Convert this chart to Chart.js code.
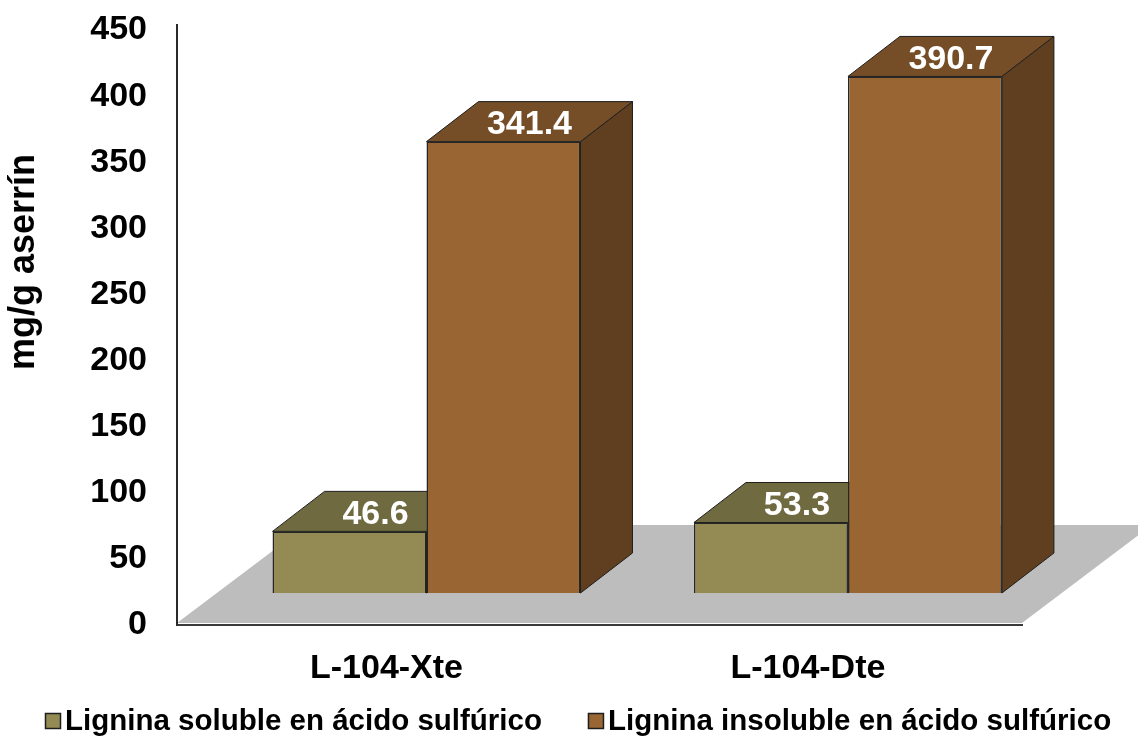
<!DOCTYPE html>
<html>
<head>
<meta charset="utf-8">
<script src="https://cdn.jsdelivr.net/npm/chart.js@4.4.1/dist/chart.umd.min.js"></script>
<style>
  html, body { margin: 0; padding: 0; background: #ffffff; }
  #wrap { width: 1138px; height: 736px; position: relative; }
</style>
</head>
<body>
<div id="wrap"><canvas id="c" width="1138" height="736"></canvas></div>
<script>
// Lignin content per sawdust sample (mg/g)
const categories = ['L-104-Xte', 'L-104-Dte'];
const seriesNames = ['Lignina soluble en ácido sulfúrico', 'Lignina insoluble en ácido sulfúrico'];
const solubleValues = [46.6, 53.3];
const insolubleValues = [341.4, 390.7];
const yTickValues = [0, 50, 100, 150, 200, 250, 300, 350, 400, 450];
const yTitle = 'mg/g aserrín';

const FONT = "'Liberation Sans', Arial, Helvetica, sans-serif";
const DEPTH_X = 52, DEPTH_Y = -40;      // bar depth in pixels
const FLOOR_X = 130, FLOOR_Y = -98;     // floor depth in pixels
const FLOOR_LIFT = 2;

function poly(ctx, pts, fill, stroke) {
  ctx.beginPath();
  ctx.moveTo(pts[0][0], pts[0][1]);
  for (let i = 1; i < pts.length; i++) ctx.lineTo(pts[i][0], pts[i][1]);
  ctx.closePath();
  ctx.fillStyle = fill;
  ctx.fill();
  if (stroke) { ctx.strokeStyle = stroke; ctx.lineWidth = 1; ctx.stroke(); }
}

// gray floor under the bars
const floorPlugin = {
  id: 'floor',
  beforeDraw(chart) {
    const { ctx, chartArea } = chart;
    const yb = chart.scales.y.getPixelForValue(0) - FLOOR_LIFT;
    ctx.save();
    poly(ctx, [
      [chartArea.left, yb], [chartArea.right, yb],
      [chartArea.right + FLOOR_X, yb + FLOOR_Y], [chartArea.left + FLOOR_X, yb + FLOOR_Y]
    ], '#bdbdbd');
    ctx.restore();
  }
};

// top and side faces of each bar, drawn behind the front faces
const depthPlugin = {
  id: 'depth',
  beforeDatasetsDraw(chart) {
    const ctx = chart.ctx;
    ctx.save();
    ctx.lineJoin = 'round';
    chart.data.datasets.forEach((ds, di) => {
      chart.getDatasetMeta(di).data.forEach(bar => {
        const { x, y, base, width } = bar.getProps(['x', 'y', 'base', 'width'], true);
        const l = x - width / 2, r = x + width / 2;
        poly(ctx, [[r, y], [r + DEPTH_X, y + DEPTH_Y], [r + DEPTH_X, base + DEPTH_Y], [r, base]], ds.sideColor, '#1e1e1e');
        poly(ctx, [[l, y], [r, y], [r + DEPTH_X, y + DEPTH_Y], [l + DEPTH_X, y + DEPTH_Y]], ds.topColor, '#1e1e1e');
      });
    });
    ctx.restore();
  },
  afterDatasetsDraw(chart) {
    const ctx = chart.ctx;
    ctx.save();
    ctx.font = `bold 34px ${FONT}`;
    ctx.fillStyle = '#ffffff';
    ctx.textAlign = 'center';
    ctx.textBaseline = 'middle';
    chart.data.datasets.forEach((ds, di) => {
      chart.getDatasetMeta(di).data.forEach((bar, i) => {
        const { x, y } = bar.getProps(['x', 'y'], true);
        ctx.fillText(ds.data[i].y.toFixed(1), x + DEPTH_X / 2, y + DEPTH_Y / 2 + 3);
      });
    });
    ctx.restore();
  }
};

// axis title and legend row
const textPlugin = {
  id: 'texts',
  afterDraw(chart) {
    const ctx = chart.ctx;
    ctx.save();
    ctx.fillStyle = '#000000';
    ctx.font = `bold 36px ${FONT}`;
    ctx.textAlign = 'center';
    ctx.textBaseline = 'middle';
    ctx.translate(24, 262);
    ctx.rotate(-Math.PI / 2);
    ctx.fillText(yTitle, 0, 0);
    ctx.restore();

    ctx.save();
    ctx.font = `bold 29.5px ${FONT}`;
    ctx.textBaseline = 'middle';
    ctx.textAlign = 'left';
    const box = 16, gapText = 4, gapItem = 46, yMid = 721;
    const items = chart.data.datasets.map(ds => ({ label: ds.label, color: ds.backgroundColor, w: ctx.measureText(ds.label).width }));
    let x = 45;
    items.forEach(it => {
      ctx.fillStyle = it.color;
      ctx.fillRect(x, yMid - box / 2, box, box);
      ctx.strokeStyle = '#1e1e1e';
      ctx.lineWidth = 1.5;
      ctx.strokeRect(x + 0.5, yMid - box / 2 + 0.5, box - 1, box - 1);
      ctx.fillStyle = '#000000';
      ctx.fillText(it.label, x + box + gapText, yMid + 1);
      x += box + gapText + it.w + gapItem;
    });
    ctx.restore();
  }
};

const pxPerUnit = 600 / 453.8;
const barsLift = 32 / pxPerUnit;

function noEdgePadding(axis) {
  axis.paddingTop = 0;
  axis.paddingBottom = 0;
  axis.paddingLeft = 0;
  axis.paddingRight = 0;
}

new Chart(document.getElementById('c'), {
  type: 'bar',
  data: {
    datasets: [
      {
        label: seriesNames[0],
        data: categories.map((c, i) => ({ x: i, y: solubleValues[i] })),
        backgroundColor: '#948a54',
        topColor: '#6f6a3f',
        sideColor: '#57532f',
        borderColor: '#262626',
        borderWidth: 1.5,
        xAxisID: 'x',
        yAxisID: 'yBars'
      },
      {
        label: seriesNames[1],
        data: categories.map((c, i) => ({ x: i, y: insolubleValues[i] })),
        backgroundColor: '#996633',
        topColor: '#754e28',
        sideColor: '#603f20',
        borderColor: '#262626',
        borderWidth: 1.5,
        xAxisID: 'x',
        yAxisID: 'yBars'
      }
    ]
  },
  options: {
    responsive: false,
    animation: false,
    events: [],
    layout: { padding: { left: 0, right: 116, top: 25, bottom: 0 } },
    categoryPercentage: 0.7307,
    barPercentage: 1,
    plugins: { legend: { display: false }, tooltip: { enabled: false } },
    scales: {
      x: {
        type: 'linear',
        position: 'bottom',
        min: -0.592,
        max: 1.413,
        offset: false,
        grid: { display: false, drawTicks: false },
        border: { display: true, color: '#3a3a3a', width: 2 },
        afterBuildTicks: axis => { axis.ticks = categories.map((c, i) => ({ value: i })); },
        afterFit: axis => { axis.height = 111; noEdgePadding(axis); },
        ticks: {
          autoSkip: false,
          maxRotation: 0,
          padding: 23,
          labelOffset: -40,
          color: '#000000',
          font: { family: FONT, size: 34, weight: 'bold' },
          callback: (v, i) => categories[i]
        }
      },
      y: {
        type: 'linear',
        position: 'left',
        min: 0,
        max: 453.8,
        grid: { display: false, drawTicks: false },
        border: { display: true, color: '#2a2a2a', width: 2 },
        afterBuildTicks: axis => { axis.ticks = yTickValues.map(v => ({ value: v })); },
        afterFit: axis => { axis.width = 177; noEdgePadding(axis); },
        ticks: {
          padding: 30,
          color: '#000000',
          font: { family: FONT, size: 34, weight: 'bold' },
          callback: v => String(v)
        }
      },
      yBars: {
        type: 'linear',
        display: false,
        min: -barsLift,
        max: 453.8 - barsLift,
        afterFit: noEdgePadding
      }
    }
  },
  plugins: [floorPlugin, depthPlugin, textPlugin]
});
</script>
</body>
</html>
